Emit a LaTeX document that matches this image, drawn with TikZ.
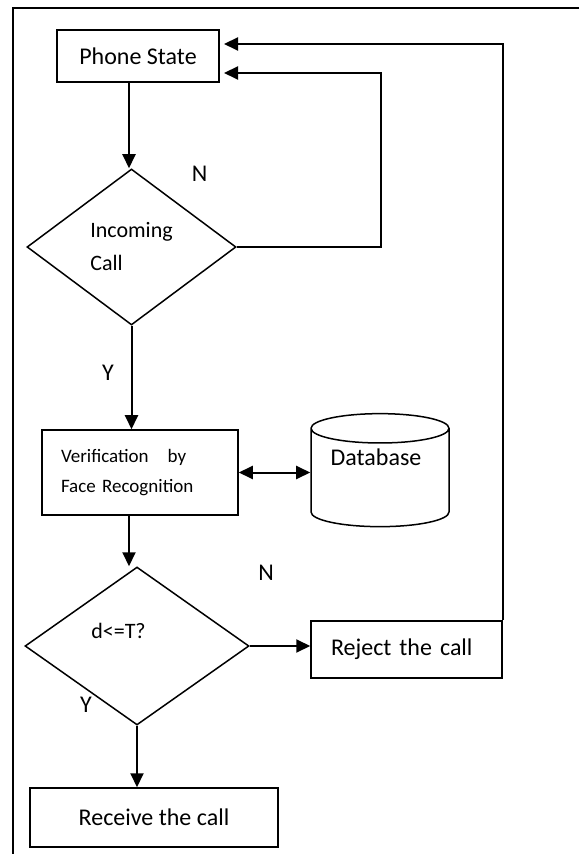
\documentclass[tikz,border=0pt]{standalone}
\usepackage{fontspec}
\setmainfont{Carlito}
\usepackage{tikz}
\usetikzlibrary{arrows.meta,positioning,shapes.geometric,calc}

\begin{document}
\begin{tikzpicture}[x=0.5pt, y=-0.5pt, >={Triangle[length=7pt,width=6.5pt]}, font=\fontsize{12}{14}\selectfont,
	   blk/.style={draw, rectangle, line width=0.75pt, inner sep=0pt},
	   dec/.style={draw, diamond, line width=0.75pt, inner sep=0pt, align=left},
	   flow/.style={->, line width=1pt}]
	  \useasboundingbox (0,0) rectangle (579,854);
	  \draw[line width=0.7pt] (579,8) -| (13,854);
	  \node[blk, minimum width=81pt, minimum height=26pt] (ps) at (138,56) {Phone State};
	  \node[dec, minimum width=104.5pt, minimum height=78pt, font=\fontsize{11}{16.5}\selectfont] (inc) at (131.5,247) {Incoming\\Call};
	  \node[blk, minimum width=98pt, minimum height=42.5pt, text width=79pt, align=left, font=\fontsize{9.5}{15}\selectfont] (ver) at (140,472.5) {Verification\ \ \ by\\Face Recognition};
	  \node[draw, cylinder, shape border rotate=90, aspect=2.2, line width=0.75pt, minimum width=69pt, minimum height=56.5pt,
	        label={[xshift=-2pt, yshift=11.75pt]center:Database}] (db) at (380,481) {};
	  \node[dec, minimum width=112pt, minimum height=79pt,
	        label={[xshift=-9.25pt, yshift=7.75pt, font=\fontsize{11}{13}\selectfont]center:d<=T?}] (thr) at (137,646) {};
	  \node[blk, minimum width=95.5pt, minimum height=28.5pt, text width=75.5pt, align=left] (rej) at (406.5,649.5) {Reject the call};
	  \node[blk, minimum width=124pt, minimum height=29.5pt] (rec) at (154,817.5) {Receive the call};
	  % yes / no marks
	  \node (n1) at (199.5,173.5) {N};
	  \node (y1) at (108,373) {Y};
	  \node (n2) at (266,573) {N};
	  \node (y2) at (86,705) {Y};
	  % return points and the left column
	  \coordinate (in1) at (224,44);
	  \coordinate (in2) at (224,73);
	  \coordinate (ret1) at (381,73);
	  \coordinate (col) at (129,0);
	  \draw[flow] (col |- ps.south) -- (col |- inc.north);
	  \draw[flow] (inc.east) -| (ret1) -- (in2);
	  \draw[flow] (inc.south) -- (inc.south |- ver.north);
	  \draw[<->, line width=1pt] (ver.east) -- (ver.east -| db.west);
	  \draw[flow] (col |- ver.south) -- (col |- thr.north);
	  \draw[flow] (thr.east) -- (thr.east -| rej.west);
	  \draw[flow] (rej.north east) |- (in1);
	  \draw[flow] (thr.south) -- (thr.south |- rec.north);
	\end{tikzpicture}
\end{document}
